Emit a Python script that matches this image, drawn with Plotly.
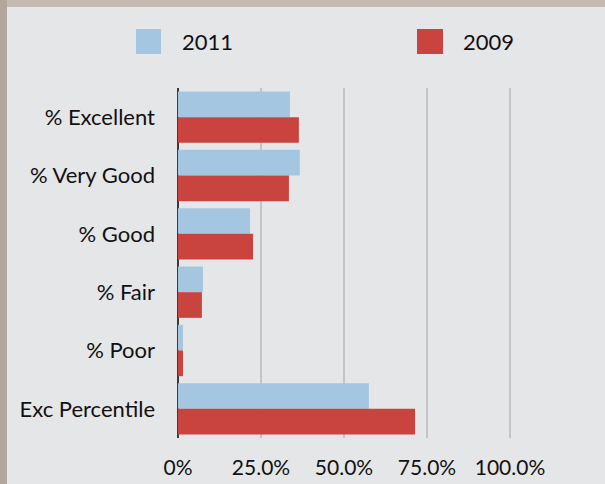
import plotly.graph_objects as go

# data
categories = ['% Excellent', '% Very Good', '% Good', '% Fair', '% Poor', 'Exc Percentile']
values_2011 = [0.337, 0.367, 0.217, 0.075, 0.015, 0.575]
values_2009 = [0.364, 0.334, 0.226, 0.072, 0.015, 0.714]
tick_vals = [0, 0.25, 0.5, 0.75, 1.0]
tick_text = ['0%', '25.0%', '50.0%', '75.0%', '100.0%']

W, H = 605, 484
ML, MR, MT, MB = 178, 20, 88, 46
PW, PH = W - ML - MR, H - MT - MB

def px(x):
    return (x - ML) / PW

def py(y):
    return (H - MB - y) / PH

BLUE = '#a5c6e1'
RED = '#c9433f'
FONT = 'Lato'

fig = go.Figure()
fig.add_trace(go.Bar(y=categories, x=values_2011, orientation='h', name='2011',
                     marker=dict(color=BLUE, line=dict(width=0))))
fig.add_trace(go.Bar(y=categories, x=values_2009, orientation='h', name='2009',
                     marker=dict(color=RED, line=dict(width=0))))

shapes = [
    # frame strips
    dict(type='rect', xref='paper', yref='paper', x0=px(0), x1=px(W), y0=py(7), y1=py(0),
         fillcolor='#c5bab1', line=dict(width=0), layer='above'),
    dict(type='rect', xref='paper', yref='paper', x0=px(0), x1=px(7), y0=py(H), y1=py(0),
         fillcolor='#b1a79f', line=dict(width=0), layer='above'),
    # legend swatches
    dict(type='rect', xref='paper', yref='paper', x0=px(136), x1=px(161), y0=py(54), y1=py(29),
         fillcolor=BLUE, line=dict(width=0)),
    dict(type='rect', xref='paper', yref='paper', x0=px(417), x1=px(443), y0=py(54), y1=py(29),
         fillcolor=RED, line=dict(width=0)),
]
annotations = [
    dict(text='2011', xref='paper', yref='paper', x=px(180), y=py(42), xanchor='left',
         yanchor='middle', showarrow=False, font=dict(size=22, color='#111', family=FONT)),
    dict(text='2009', xref='paper', yref='paper', x=px(461), y=py(42), xanchor='left',
         yanchor='middle', showarrow=False, font=dict(size=22, color='#111', family=FONT)),
]

fig.update_layout(
    width=W, height=H,
    margin=dict(l=ML, r=MR, t=MT, b=MB),
    paper_bgcolor='#e5e6e8',
    plot_bgcolor='rgba(0,0,0,0)',
    barmode='group',
    bargap=0.12,
    bargroupgap=0,
    showlegend=False,
    font=dict(family=FONT, size=22, color='#111'),
    shapes=shapes,
    annotations=annotations,
)
fig.update_xaxes(
    range=[0, PW / 332], tickvals=tick_vals, ticktext=tick_text,
    tickfont=dict(size=21), automargin=False,
    showgrid=True, gridcolor='#c4c4c4', gridwidth=1.5,
    zeroline=True, zerolinecolor='#3a3a3a', zerolinewidth=1.5,
    ticks='', ticklabelstandoff=15, fixedrange=True,
)
fig.update_yaxes(
    autorange='reversed', showgrid=False, zeroline=False, automargin=False,
    ticks='', ticklabelstandoff=22, fixedrange=True,
)

fig.write_html('out.html', config={'displayModeBar': False},
               post_script="document.body.style.margin='0';")
